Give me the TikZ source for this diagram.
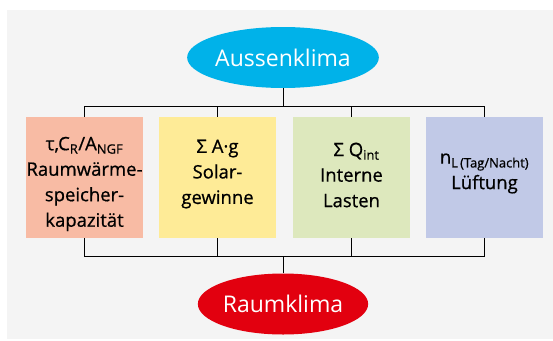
\documentclass[tikz,border=0pt]{standalone}
\usepackage{fontspec}
\setmainfont{Open Sans}
\newfontfamily\medfont[FakeBold=0.7]{Open Sans}
\usetikzlibrary{shapes.geometric}
\definecolor{bggray}{HTML}{F4F4F4}
\definecolor{cyanell}{HTML}{00B2E9}
\definecolor{redell}{HTML}{E2000F}
\definecolor{boxa}{HTML}{F8BBA4}
\definecolor{boxb}{HTML}{FEEB97}
\definecolor{boxc}{HTML}{DDE8BD}
\definecolor{boxd}{HTML}{C1C9E7}
\tikzset{
  ell/.style={ellipse, minimum width=166pt, minimum height=61pt, inner sep=0pt, text=white, font=\fontsize{23}{27}\selectfont},
  box/.style={rectangle, minimum width=117pt, minimum height=121pt, inner sep=0pt},
  boxtext/.style={align=center, font=\medfont\fontsize{18.5}{25.5}\selectfont, text=black, inner sep=0pt},
  conn/.style={draw=black, line width=0.8pt}
}
\begin{document}
\begin{tikzpicture}[x=1pt,y=-1pt]
\useasboundingbox (0,0) rectangle (553,340);
\fill[white] (0,0) rectangle (553,340);
\fill[bggray] (7,9.5) rectangle (553,339);

\node[ell, fill=cyanell] (top) at (283,57.5) {Aussenklima};
\node[ell, fill=redell] (bot) at (283,304) {Raumklima};

\node[box, fill=boxa] (b1) at (84.5,177.5) {};
\node[box, fill=boxb] (b2) at (217.5,177.5) {};
\node[box, fill=boxc] (b3) at (351.5,177.5) {};
\node[box, fill=boxd] (b4) at (484.5,177.5) {};

\node[boxtext] (t1) at (84.5,184) {τ,C\textsubscript{R}/A\textsubscript{NGF}\\Raumwärme-\\speicher-\\kapazität};
\node[boxtext] (t2) at (217.5,174) {Σ A·g\\Solar-\\gewinne};
\node[boxtext] (t3) at (351.5,175) {\hspace{10pt}Σ Q\textsubscript{int}\\Interne\\Lasten};
\node[boxtext] (t4) at (484.5,173.5) {n\textsubscript{L\,(Tag/Nacht)}\\Lüftung};

\coordinate (hT) at (283,106);
\coordinate (hB) at (283,256);
\draw[conn] (top.south) -- (hT);
\draw[conn] (b1.north) -- (b1.north |- hT) -- (b4.north |- hT) -- (b4.north);
\draw[conn] (b2.north) -- (b2.north |- hT);
\draw[conn] (b3.north) -- (b3.north |- hT);
\draw[conn] (bot.north) -- (hB);
\draw[conn] (b1.south) -- (b1.south |- hB) -- (b4.south |- hB) -- (b4.south);
\draw[conn] (b2.south) -- (b2.south |- hB);
\draw[conn] (b3.south) -- (b3.south |- hB);
\end{tikzpicture}
\end{document}
